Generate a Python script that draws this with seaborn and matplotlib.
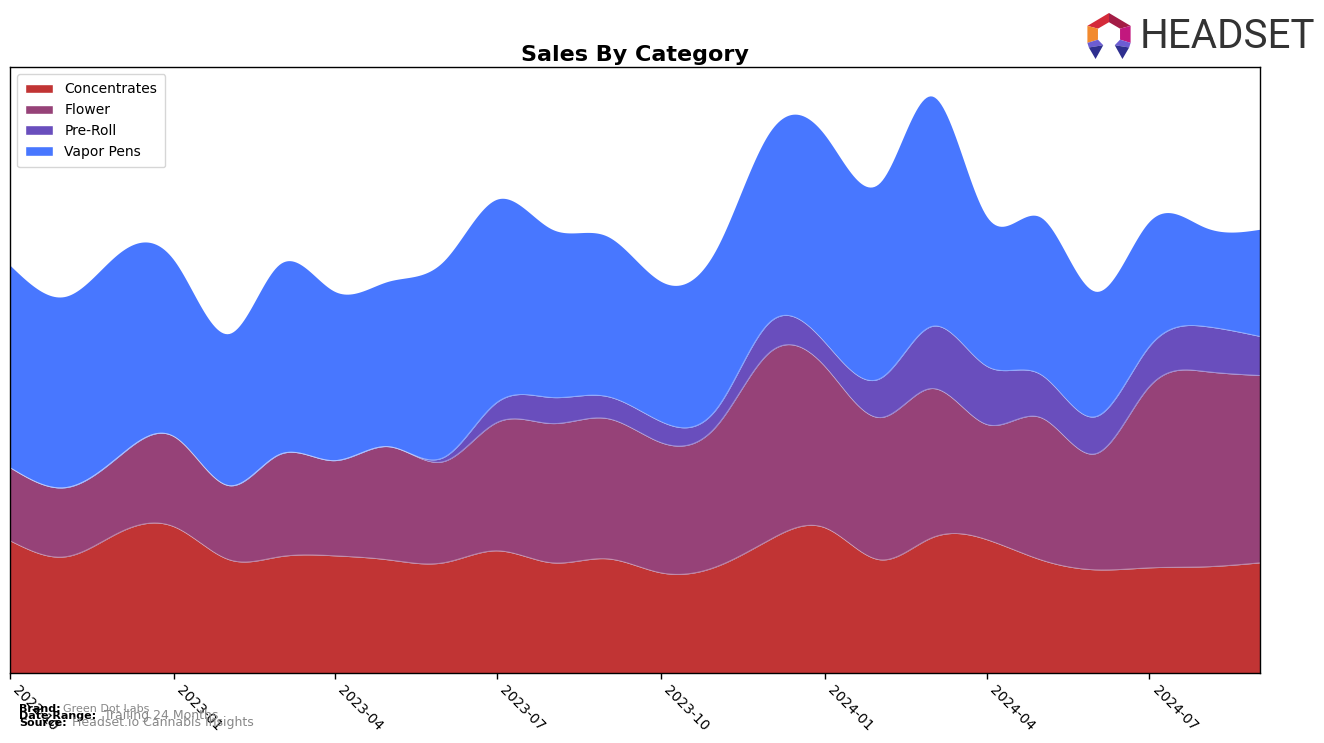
import numpy as np
import pandas as pd
import matplotlib
matplotlib.use("Agg")
import matplotlib.pyplot as plt
import matplotlib.dates as mdates
from matplotlib.patches import Patch, Polygon
import seaborn as sns

# ---------------- data ----------------
months = pd.date_range("2022-10-01", periods=24, freq="MS")
categories = ["Concentrates", "Flower", "Pre-Roll", "Vapor Pens"]
concentrates = [132, 116, 140, 146, 113, 116, 117, 113, 110, 122, 110, 114,
                100, 106, 133, 145, 113, 135, 133, 113, 103, 105, 106, 110]
flower = [73, 69, 76, 90, 74, 102, 95, 113, 101, 128, 139, 140,
          130, 140, 187, 161, 142, 149, 115, 142, 116, 181, 195, 187]
pre_roll = [0, 0, 0, 0, 0, 0, 0, 0, 4, 20, 26, 22,
            21, 17, 30, 24, 39, 62, 58, 43, 37, 40, 45, 39]
vapor_pens = [202, 191, 203, 176, 152, 190, 169, 165, 196, 203, 168, 160,
              140, 160, 190, 207, 196, 230, 149, 157, 125, 125, 99, 107]
colors = ["#C13434", "#964278", "#694EBD", "#4877FF"]

brand = "Green Dot Labs"
date_range = "Trailing 24 Months"
source = "Headset.io Cannabis Insights"


def natural_cubic(x, y, xs):
    x = np.asarray(x, float)
    y = np.asarray(y, float)
    n = len(x)
    h = np.diff(x)
    A = np.zeros((n, n))
    r = np.zeros(n)
    A[0, 0] = 1
    A[-1, -1] = 1
    for i in range(1, n - 1):
        A[i, i - 1] = h[i - 1]
        A[i, i] = 2 * (h[i - 1] + h[i])
        A[i, i + 1] = h[i]
        r[i] = 3 * ((y[i + 1] - y[i]) / h[i] - (y[i] - y[i - 1]) / h[i - 1])
    c = np.linalg.solve(A, r)
    b = (y[1:] - y[:-1]) / h - h * (2 * c[:-1] + c[1:]) / 3
    d = (c[1:] - c[:-1]) / (3 * h)
    idx = np.clip(np.searchsorted(x, xs, side="right") - 1, 0, n - 2)
    dx = xs - x[idx]
    return y[idx] + b[idx] * dx + c[idx] * dx ** 2 + d[idx] * dx ** 3


sns.set_style("white")
plt.rcParams["font.family"] = ["DejaVu Sans"]
plt.rcParams["text.color"] = "black"

W, H = 1324, 743
fig = plt.figure(figsize=(13.24, 7.43), dpi=100)
ax = fig.add_axes([10 / W, 1 - 673 / H, 1250 / W, 606 / H])

xnum = mdates.date2num(months.to_pydatetime())
xs = np.linspace(xnum[0], xnum[-1], 600)
series = [concentrates, flower, pre_roll, vapor_pens]
smooth = [np.clip(natural_cubic(xnum, s, xs), 0, None) for s in series]
xs_dates = mdates.num2date(xs)

ax.stackplot(xs_dates, *smooth, colors=colors, labels=categories, linewidth=0)
cum = np.cumsum(smooth, axis=0)
for k in range(3):
    sns.lineplot(x=xs_dates, y=cum[k], ax=ax, color="white", alpha=0.35,
                 linewidth=0.7, legend=False)

total_max = cum[-1].max()
ax.set_ylim(0, total_max * 1.05)
ax.set_xlim(xs_dates[0], xs_dates[-1])
ax.set_yticks([])
ax.xaxis.set_major_locator(mdates.MonthLocator(bymonth=[1, 4, 7, 10]))
ax.xaxis.set_major_formatter(mdates.DateFormatter("%Y-%m"))
ax.tick_params(axis="x", which="major", length=4, width=1, direction="out",
               bottom=True, labelsize=10, colors="black")
for lbl in ax.get_xticklabels():
    lbl.set_rotation(-45)
    lbl.set_ha("left")
for sp in ax.spines.values():
    sp.set_visible(True)
    sp.set_color("black")
    sp.set_linewidth(1)

ax.set_title("Sales By Category", fontsize=16, fontweight="bold", pad=4,
             color="black")

handles = [Patch(facecolor=c, label=l) for c, l in zip(colors, categories)]
leg = ax.legend(handles=handles, loc="upper left", fontsize=10, frameon=True,
                handlelength=2.0, borderpad=0.6)
for t in leg.get_texts():
    t.set_color("black")

# footer text
fs = 8
fig.text(19 / W, 1 - 712 / H, "Brand:", fontsize=fs, fontweight="bold", color="black")
fig.text(63 / W, 1 - 712 / H, brand, fontsize=fs, color="#888888")
fig.text(19 / W, 1 - 719 / H, "Date Range:", fontsize=fs, fontweight="bold", color="black")
fig.text(104 / W, 1 - 719 / H, date_range, fontsize=fs + 1, color="#888888")
fig.text(19 / W, 1 - 726 / H, "Source:", fontsize=fs, fontweight="bold", color="black")
fig.text(72 / W, 1 - 726 / H, source, fontsize=fs + 1, color="#888888")

# logo icon
lax = fig.add_axes([1085 / W, 1 - 59 / H, 48 / W, 46 / H])
lax.set_xlim(0, 1)
lax.set_ylim(0, 1)
lax.axis("off")
shapes = [
    ([(0.05, 0.72), (0.5, 1.0), (0.5, 0.8), (0.27, 0.66)], "#D42A3A"),
    ([(0.5, 1.0), (0.95, 0.72), (0.73, 0.66), (0.5, 0.8)], "#A31C45"),
    ([(0.05, 0.72), (0.27, 0.66), (0.27, 0.42), (0.05, 0.35)], "#F28A2E"),
    ([(0.95, 0.72), (0.95, 0.35), (0.73, 0.42), (0.73, 0.66)], "#C2187E"),
    ([(0.05, 0.35), (0.27, 0.42), (0.38, 0.3), (0.08, 0.25)], "#6C5DD3"),
    ([(0.08, 0.25), (0.38, 0.3), (0.22, 0.0)], "#2E2F8F"),
    ([(0.95, 0.35), (0.73, 0.42), (0.62, 0.3), (0.92, 0.25)], "#6C5DD3"),
    ([(0.92, 0.25), (0.62, 0.3), (0.78, 0.0)], "#2E2F8F"),
]
for pts, col in shapes:
    lax.add_patch(Polygon(pts, closed=True, facecolor=col, edgecolor="none"))

# logo wordmark as real text
fig.text(1140 / W, 1 - 37 / H, "HEADSET", fontsize=29, color="#333333",
         va="center", ha="left", family=["Roboto", "DejaVu Sans"])

fig.savefig("out.png", dpi=100)
